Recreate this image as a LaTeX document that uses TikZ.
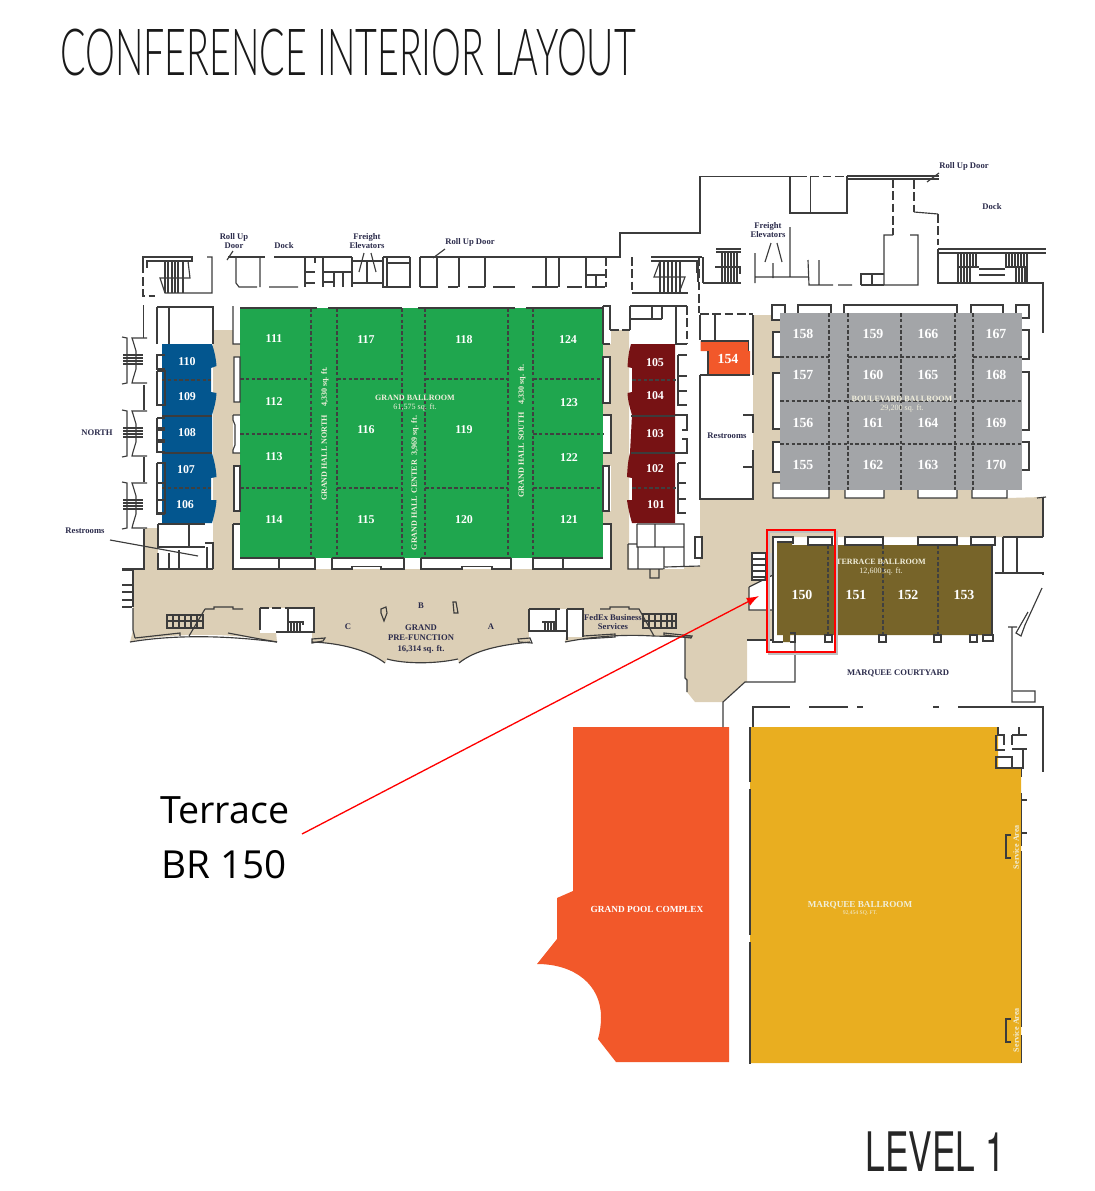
\documentclass[tikz,border=0pt]{standalone}
\usepackage{fontspec}
\setmainfont{Liberation Serif}
\newfontfamily\headfont{Lato Light}
\newfontfamily\levelfont{TeX Gyre Heros}
\newfontfamily\notefont{Open Sans}
\usepackage{xcolor}
\usepackage{graphicx}
\usetikzlibrary{arrows.meta}
\definecolor{beige}{HTML}{DCCFB6}
\definecolor{roomgreen}{HTML}{1FA64E}
\definecolor{roomblue}{HTML}{03568F}
\definecolor{maroon}{HTML}{771214}
\definecolor{roomgrey}{HTML}{A3A5A8}
\definecolor{flame}{HTML}{F2582A}
\definecolor{gold}{HTML}{E9AE20}
\definecolor{olive}{HTML}{776429}
\definecolor{wallc}{HTML}{3C3C3C}
\definecolor{navy}{HTML}{2B2B4B}
\definecolor{pale}{HTML}{F1EFDC}
\tikzset{
  wall/.style={draw=wallc, line width=0.65pt},
  whitebox/.style={draw=wallc, fill=white, line width=0.65pt},
  dashwall/.style={draw=wallc, line width=0.65pt, dash pattern=on 5pt off 2pt},
  split/.style={draw=black!75, line width=0.6pt, dash pattern=on 2pt off 1.3pt},
  num/.style={text=white, font=\bfseries\fontsize{6.8}{7}\selectfont, inner sep=0pt},
  numb/.style={text=white, font=\bfseries\fontsize{7.9}{8}\selectfont, inner sep=0pt},
  lab/.style={text=navy, font=\bfseries\fontsize{4.9}{5.6}\selectfont, align=center, inner sep=0pt},
  hall/.style={text=pale, font=\fontsize{4.6}{5.3}\selectfont, align=center, inner sep=0pt},
  redline/.style={draw=red, line width=1.15pt}
}
\begin{document}
\begin{tikzpicture}[x=0.02cm,y=-0.02cm]
  \useasboundingbox (0,0) rectangle (1095,1191);

  % floor of the public space
  \fill[beige] (133,569)--(145,569)--(145,528)--(213,528)--(213,330)--(240,330)--(240,569)--(603,569)
    --(603,330)--(629,330)--(629,569)--(665,569)--(700,566)--(700,498)--(753,498)--(753,315)--(780,315)
    --(780,490)--(1007,490)--(1007,498)--(1043,497)--(1043,537)--(773,537)--(773,640)--(747,640)--(747,682)--(745,682)
    --(723,702)--(695,702)--(687,692)--(687,680)--(685,678)--(685,637)--(653,636)
    .. controls (620,634) and (590,637) .. (565,642)--(567,631)--(529,631)--(530,642)
    .. controls (500,645) and (475,650) .. (459,663)--(458,659)
    .. controls (435,664) and (405,664) .. (387,659)--(385,663)
    .. controls (368,650) and (340,643) .. (312,642)--(312,632)--(276,632)--(277,642)
    .. controls (250,636) and (215,634) .. (190,635) .. controls (165,636) and (145,638) .. (130,642)
    --(133,630)--cycle;

  % white service rooms over the floor
  \fill[white] (157,307) rectangle (213,344);
  \fill[white] (630,330) rectangle (676,344);
  \fill[white] (158,524) rectangle (213,569);
  \fill[white] (637,524) rectangle (684,569);
  \fill[white] (260,608) rectangle (314,633);
  \fill[white] (529,609) rectangle (583,637);
  \fill[white] (773,537) rectangle (777,642);
  \fill[white] (773,537) rectangle (793,542);
  \fill[black!20] (767,553) rectangle (773,608);
  \fill[white] (749,587)--(773,575)--(773,610)--(749,610)--cycle;
  \fill[white] (752,553) rectangle (766,580);
  \foreach \boxa/\boxb/\boxh in {233/306/38,234/357/45,233/415/38,234/466/45,233/524/45,603/306/38,603/357/46,603/415/38,603/466/45,603/524/45}
    \fill[white] (\boxa,\boxb) rectangle +(7.5,\boxh);
  \foreach \boxa/\boxb/\boxh in {772/305/15,773/332/25,773/373/56,773/442/30,773/483/15}
    \fill[white] (\boxa,\boxb) rectangle +(8,\boxh);
  \foreach \bumpa/\bumpb in {773/829,845/884,918/957,972/1007}
    \fill[white] (\bumpa,490) rectangle (\bumpb,498);

  % coloured rooms
  \fill[roomgreen] (240,308) rectangle (603,558);
  \fill[roomgrey] (780,313) rectangle (1022,490);
  \fill[roomblue] (162,344)--(212,344) .. controls (214,350) and (216,358) .. (216.5,366)--(211,368)--(211,392)--(216.5,393) .. controls (216,402) and (214,408) .. (212,415)--(212,453)
    .. controls (214,460) and (216,468) .. (216.5,477)--(211,478)--(211,500)--(216.5,500) .. controls (216,508) and (214,516) .. (212,523)--(162,523)--cycle;
  \fill[maroon] (675,344)--(631,344) .. controls (629,350) and (628,358) .. (627.5,367)--(632,368)--(632,392)--(627.5,393) .. controls (628,402) and (630,408) .. (632,415)--(630,453)
    .. controls (628,460) and (627.5,468) .. (627,477)--(632,478)--(632,500)--(627,500) .. controls (628,508) and (630,516) .. (632,523)--(675,523)--cycle;
  \fill[flame] (700.7,341)--(748.7,341)--(748.7,351)--(750,351)--(750,375)--(708,375)--(708,351)--(700.7,351)--cycle;
  \fill[olive] (777,542)--(792,542)--(792,545)--(992,545)--(992,635)--(790,635)--(790,642)--(783,642)--(783,635)--(777,635)--cycle;
  \fill[flame] (573,727)--(729,727)--(729,1062)--(616,1062)--(598,1039)
    .. controls (600,1032) and (601,1025) .. (601,1017) .. controls (601,985) and (575,964) .. (537,964)
    --(557,939)--(557,898)--(573,891)--cycle;
  \fill[gold] (750,727)--(998,727)--(998,768)--(1021,768)--(1021,1063)--(750,1063)--cycle;

  % partitions
  \foreach \px in {311,337,402,425,508,533} \draw[split] (\px,308)--(\px,558);
  \draw[split] (240,379)--(311,379) (337,379)--(402,379) (425,379)--(508,379) (533,379)--(603,379);
  \draw[split] (240,434)--(311,434) (533,434)--(603,434);
  \draw[split] (240,488)--(311,488) (337,488)--(402,488) (425,488)--(508,488) (533,488)--(603,488);
  \draw[split] (162,380)--(211,380) (162,488)--(211,488) (632,380)--(678,380) (632,488)--(678,488);
  \foreach \px in {829,848,901,955,973} \draw[split] (\px,313)--(\px,490);
  \draw[split] (780,357)--(829,357) (848,357)--(955,357) (973,357)--(1022,357);
  \draw[split] (780,401)--(1022,401) (780,444)--(1022,444);
  \foreach \px in {828,883,938} \draw[split] (\px,545)--(\px,635);

  % walls: west and north edge of the grand ballroom
  \draw[wall] (240,308)--(317,308) (328,308)--(402,308) (418,308)--(515,308) (526,308)--(603,308);
  \draw[wall] (240,558)--(315,558) (332,558)--(404,558) (421,558)--(511,558) (533,558)--(603,558);
  \draw[wall] (162,416)--(212,416) (162,453)--(212,453) (631,416)--(675,416) (631,453)--(675,453);
  \draw[wall] (777,542)--(792,542) (992,545)--(992,635);
  \draw[wall] (700.7,341)--(748.7,341)--(748.7,351) (708,351)--(708,375)--(750,375);

  % top-left stair and dock
  \draw[wall] (143,273)--(143,257)--(192,257)--(192,261)--(147,261)--(147,268);
  \draw[wall] (188,261)--(190,278)--(160,278)--(165,293)--(212,293)--(212,257)--(207,257);
  \foreach \sx in {165,168,172,175,178,183} \draw[wall] (\sx,261)--(\sx,293);
  \draw[dashwall] (143,277)--(143,296)--(155,296);
  \draw[wall] (143.6,305)--(143.6,338) (144,385)--(144,410) (144,457)--(144,482) (144,529)--(144,569)--(122,569);
  \draw[wall] (228,257)--(265,257) (274,257)--(352,257) (383,257)--(410,257) (420,257)--(620,257)--(620,233)--(700,233)--(700,176.7)--(798,176.7);
  \draw[wall] (236,257)--(236,283)--(239,287)--(257,287) (260,257)--(260,287) (269,287)--(298,287);
  \draw[wall] (305,257)--(305,287) (305,272)--(315,272) (305,283)--(315,283) (315,257)--(315,263);
  \draw[wall] (323,257)--(323,287) (323,272)--(352,272) (323,282)--(334,282) (334,272)--(334,287) (343,272)--(343,287);
  \draw[wall] (352,257)--(352,287) (352,261)--(383,261) (352,283)--(383,283) (367,261)--(367,283);
  \draw[wall] (383,257)--(383,287)--(410,287)--(410,257) (387,257)--(387,287) (387,263)--(410,263);
  \draw[wall] (364,253)--(359,272) (371,253)--(376,272) (233,251)--(227,260) (445,249)--(433,258) (939,173)--(927,182);
  \foreach \dx in {420,437,459,485,546,559,586} \draw[wall] (\dx,257)--(\dx,287);
  \draw[wall] (420,287)--(438,287) (448,287)--(458,287) (468,287)--(485,287) (493,287)--(515,287) (532,287)--(558,287) (567,287)--(582,287) (585,287)--(605,287);
  \draw[wall] (586,275)--(606,275) (596,275)--(596,287);
  \draw[dashwall] (606,257)--(606,287);

  % top-middle stair
  \draw[dashwall] (632,257)--(632,292);
  \draw[wall] (632,293)--(688,293) (651,257)--(698,257) (651,261)--(697,261)--(697,273);
  \draw[wall] (660,261)--(654,277)--(685,277)--(679,293);
  \foreach \sx in {660,664,668,672,676,680} \draw[wall] (\sx,261)--(\sx,293);
  \draw[dashwall] (699,257)--(699,313);

  % north-east service wing
  \draw[wall] (847,176)--(939,176) (847,179)--(939,179) (790,176.7)--(790,213)--(847,213)--(847,176) (810.7,176.7)--(810.7,213);
  \draw[dashwall] (798,176.7)--(847,176.7) (893,179)--(893,235) (914,180)--(914,212) (938,214)--(938,245);
  \draw[wall] (893,235)--(884,235)--(884,285)--(918,285)--(918,235)--(910,235) (914,212)--(938,214);
  \draw[wall] (938,249)--(938,283)--(1043,283)--(1043,333) (938,249)--(1046,249) (938,253)--(1046,253);
  \foreach \sx in {958,961,964,967,970,973,976} \draw[wall] (\sx,253)--(\sx,267);
  \foreach \sx in {958,961,964,967,970} \draw[wall] (\sx,267)--(\sx,282);
  \foreach \sx in {1006,1009,1012,1015,1018,1021,1024,1027} \draw[wall] (\sx,253)--(\sx,267);
  \foreach \sx in {1016,1019,1022,1025,1027} \draw[wall] (\sx,267)--(\sx,282);
  \draw[wall] (957,267)--(979,267) (1005,267)--(1027,267) (979,269)--(1005,269) (979,275)--(1005,275);
  \draw[wall] (755,253)--(755,283) (755,277)--(809,277) (773,263)--(773,278) (790,227)--(790,277) (808,260)--(809,285)--(833,285) (838,285)--(852,285) (819,260)--(819,285);
  \draw[wall] (771,243)--(765,262) (777,243)--(782,262);
  \draw[wall] (861,285)--(861,274)--(884,274) (872,274)--(872,285) (861,285)--(884,285);
  \draw[wall] (716,249)--(741,249) (716,252)--(741,252) (703,283)--(741,283) (715,267)--(740,267)--(740,274) (703,257)--(703,283) (690,257)--(702,257) (698,262)--(698,282);
  \foreach \sx in {722,725,728,731,734,737} \draw[wall] (\sx,252)--(\sx,283);

  % restrooms and room 154
  \draw[wall] (700,315)--(700,340) (700,375)--(700,499)--(754,499) (753,315)--(753,375) (753,450)--(753,499);
  \draw[dashwall] (700,314)--(753,314);
  \draw[wall] (715,315)--(715,340) (743,415)--(753,415)--(753,433) (753,450)--(753,467)--(743,467) (700,375)--(708,375);

  % stair blocks on the north side
  \foreach \sy in {337,410,482} {
    \draw[wall] (147,\sy+1)--(132,\sy+1)--(133,\sy+4)--(136,\sy+14)--(136,\sy+32)--(133,\sy+42)--(132,\sy+46)--(147,\sy+46);
    \draw[wall] (122,\sy)--(127,\sy+1)--(127,\sy+46)--(122,\sy+47);
    \foreach \sk in {18,21,24,27} \draw[wall] (123,\sy+\sk)--(143,\sy+\sk);
  }
  \foreach \wy in {355,428,500} \draw[wall] (165,\wy)--(157,\wy)--(157,\wy+14)--(165,\wy+14);

  % boxes along the ballroom sides
  \draw[wall] (157,307)--(213,307)--(213,344) (169,307)--(169,344) (157,344)--(157,307);
  \draw[wall] (157,371)--(165,371)--(165,405)--(157,405)--(157,371);
  \draw[wall] (157,418)--(165,418) (157,418)--(157,430)--(165,430) (157,440)--(165,440) (157,440)--(157,452)--(165,452);
  \draw[wall] (157,463)--(165,463)--(165,513)--(157,513) (157,463)--(157,513) (157,483)--(165,483) (157,500)--(165,500);
  \draw[wall] (233,306)--(233,344)--(240,344) (234,357) rectangle (240,402) (233,415)--(233,420)--(235,425)--(235,445)--(233,450)--(233,453)--(240,453) (233,415)--(240,415);
  \draw[wall] (234,466) rectangle (240,511) (233,524)--(240,524) (233,524)--(233,569)--(315,569)--(315,558) (279,558)--(279,569);
  \draw[wall] (332,558)--(332,569)--(352,569)--(352,566.7)--(381,566.7)--(381,569)--(404,569)--(404,558) (421,558)--(421,569)--(462,569)--(462,566.7)--(492,566.7)--(492,569)--(511,569)--(511,558);
  \draw[wall] (533,558)--(533,569)--(611,569)--(611,524)--(603,524) (563,558)--(563,569);
  \draw[wall] (603,306)--(610,306)--(610,330) (610,344)--(603,344) (603,306)--(603,344) (603,357) rectangle (610,403) (603,415)--(611,415)--(611,453)--(603,453) (603,466) rectangle (609,511);
  \draw[dashwall] (610,330)--(630,330);
  \draw[wall] (630,306)--(687,306) (630,306)--(630,330) (630,319)--(662,319) (652,306)--(652,319) (662,306)--(662,319) (676,306)--(676,344) (675,344)--(687,344);
  \draw[dashwall] (687,306)--(687,344);
  \draw[wall] (678,355)--(687,355) (678,355)--(678,405)--(687,405) (678,376)--(687,376) (678,391)--(687,391);
  \draw[wall] (675,415)--(687,415)--(687,430)--(682,430) (682,439)--(687,439)--(687,453)--(675,453);
  \draw[wall] (678,463)--(686,463) (678,463)--(678,513)--(686,513) (678,483)--(686,483) (678,499)--(686,499);

  % restrooms below the wings
  \draw[wall] (158,524)--(205,524) (158,524)--(158,547)--(205,547) (189,524)--(189,547) (205,543)--(213,543)--(213,569) (158,553)--(158,569)--(213,569) (169,553)--(169,569) (179,550)--(179,569) (207,547)--(207,569);
  \draw[wall] (637,524)--(684,524)--(684,566) (637,524)--(637,547)--(684,547) (655,524)--(655,547) (628,544)--(628,569)--(663,569) (628,544)--(636,544) (638,547)--(638,569) (664,547)--(664,569) (650,569)--(650,578)--(659,578)--(659,569) (665,567)--(700,566);
  \filldraw[whitebox] (695,537) rectangle (702,558);

  % grand pre-function hall
  \draw[wall] (133,608)--(133,630)--(135,638) (130,642) .. controls (165,636) and (215,634) .. (277,642);
  \foreach \dy in {570,585,592,600,607} \draw[wall] (122,\dy)--(132,\dy);
  \draw[wall] (133,569)--(133,607);
  \draw[wall] (135,638)--(180,633)--(180,636) (228,633)--(260,639)--(277,642);
  \draw[wall] (205,609)--(189,636) (205,609)--(214,609)--(214,607)--(233,607)--(233,609)--(243,609);
  \draw[wall] (167,615) rectangle (203,628) (167,621)--(203,621);
  \foreach \sx in {173,179,185,191,197} \draw[wall] (\sx,615)--(\sx,628);
  \draw[dashwall] (260,608)--(288,608);
  \draw[wall] (288,608)--(314,608)--(314,633) (260,608)--(260,630) (288,608)--(288,632) (276,632)--(314,632) (288,622)--(303,622)--(303,625);
  \foreach \sx in {291,294,297,300} \draw[wall] (\sx,622)--(\sx,632);
  \draw[wall] (312,643)--(323,641)--(325,638)--(312,639)--cycle;
  \draw[wall] (385,663) .. controls (368,650) and (340,643) .. (312,642);
  \draw[wall] (459,663) .. controls (475,650) and (500,645) .. (530,642) (387,659) .. controls (405,664) and (435,664) .. (458,659);
  \draw[wall] (518,639)--(530,638)--(532,643)--(519,642)--cycle;
  \draw[wall] (529,609)--(560,609) (529,609)--(529,632) (529,631)--(567,631) (556,609)--(556,631) (542,622)--(557,622);
  \foreach \sx in {545,548,551,554} \draw[wall] (\sx,622)--(\sx,631);
  \draw[wall] (567,609)--(583,609)--(583,637) (567,609)--(567,640);
  \draw[wall] (565,642) .. controls (590,637) and (620,634) .. (653,636)--(692,637);
  \draw[wall] (600,609)--(610,609)--(610,607)--(629,607)--(629,609)--(639,609)--(654,636);
  \draw[wall] (643,614) rectangle (676,628) (643,621)--(676,621);
  \foreach \sx in {649,655,661,667,672} \draw[wall] (\sx,614)--(\sx,628);
  \draw[wall] (664,633)--(692,636)--(691,638)--(664,635)--cycle (583,636)--(615,634)--(615,637)--(583,639);
  \draw[wall] (381,609)--(386,607)--(387,613)--(384,621)--(381,613)--cycle (453,602)--(456,602)--(458,613)--(454,613)--cycle;
  \draw[wall] (685,637)--(685,678)--(687,680)--(687,692);
  \draw[wall] (723,727)--(723,702)--(745,682)--(795,682)--(795,642);

  % boulevard ballroom surround
  \draw[wall] (785,313)--(785,305)--(772,305)--(772,320)--(780,320) (798,313)--(798,305)--(831,305)--(831,313);
  \draw[wall] (844,313)--(844,305)--(957,305)--(957,313) (971,313)--(971,305)--(1003,305)--(1003,313);
  \draw[wall] (1016,313)--(1016,305)--(1029,305)--(1029,318)--(1022,318);
  \draw[wall] (780,332)--(773,332)--(773,357)--(780,357) (780,373)--(773,373)--(773,429)--(780,429) (780,442)--(773,442)--(773,472)--(780,472);
  \draw[wall] (780,483)--(773,483)--(773,498)--(829,498)--(829,490) (845,490)--(845,498)--(884,498)--(884,490) (918,490)--(918,498)--(957,498)--(957,490) (972,490)--(972,498)--(1007,498)--(1007,490) (1037,498)--(1046,497);
  \draw[wall] (1022,330)--(1029,330)--(1029,359)--(1022,359) (1022,372)--(1029,372)--(1029,430)--(1022,430) (1022,442)--(1029,442)--(1029,470)--(1022,470);
  \draw[wall] (1043,497)--(1043,537);

  % terrace ballroom surround
  \draw[wall] (793,544)--(793,537)--(773,537)--(773,642)--(783,642) (773,640)--(747,640);
  \filldraw[whitebox] (808,537) rectangle (832,545);
  \filldraw[whitebox] (845,537)--(883,537)--(883,545)--(845,545)--cycle;
  \filldraw[whitebox] (918,537)--(957,537)--(957,545)--(918,545)--cycle;
  \filldraw[whitebox] (971,537)--(995,537)--(995,545)--(971,545)--cycle;
  \draw[wall] (790,633)--(795,633)--(795,642)--(790,642);
  \foreach \bx in {825,879,934,970} \draw[wall] (\bx,635) rectangle +(7,7);
  \draw[wall] (983,635) rectangle (993,641);
  \draw[wall] (752,553) rectangle (766,580);
  \foreach \sy in {559,565,571,577} \draw[wall] (752,\sy)--(766,\sy);
  \draw[wall] (749,587)--(773,575) (749,587)--(749,610)--(773,610);
  \draw[wall] (1003,537)--(1043,537) (1003,537)--(1003,573) (1017,537)--(1017,573) (995,573)--(1043,573)--(1043,575);
  \draw[wall] (1042,588)--(1025,625)--(1021,636)--(1016,633)--(1028,612) (1008,627)--(1017,627) (1012,627)--(1012,702)--(1035,702)--(1035,691)--(1013,691);
  \draw[wall] (753,727)--(753,707)--(790,707) (809,707)--(848,707) (857,707)--(863,707) (933,707)--(939,707) (958,707)--(1043,707)--(1043,772);

  % marquee ballroom edges
  \draw[wall] (750,727)--(750,782) (750,789)--(750,935) (750,942)--(750,1064);
  \draw[wall] (1021.7,768)--(1021.7,777) (1021.7,793)--(1021.7,846) (1021.7,851)--(1021.7,1027) (1021.7,1035)--(1021.7,1063);
  \draw[wall] (1011,835)--(1006,835)--(1006,858)--(1011,858) (1011,1019)--(1006,1019)--(1006,1042)--(1011,1042);
  \draw[wall] (1022,800)--(1027,800) (1022,833)--(1027,833);
  \draw[wall] (998,727)--(998,735)--(1004,735)--(1004,745) (996,735)--(996,750)--(1005,750) (996,757)--(1012,757)--(1012,768)--(996,768)--cycle;
  \draw[wall] (1012,735)--(1027,735) (1012,735)--(1012,745) (1012,749)--(1027,749) (1023,749)--(1023,768)--(1012,768) (1019,727)--(1019,735);

  % room numbers
  \foreach \n/\x/\y in {110/187/362,109/187/397,108/187/433,107/186/470,106/185/505,
    111/274/339,112/274/402,113/274/457,114/274/520,115/366/520,116/366/430,117/366/340,
    118/464/340,119/464/430,120/464/520,121/569/520,122/569/458,123/569/403,124/568/340,
    105/655/363,104/655/396,103/655/434,102/655/469,101/656/505}
    \node[num] (room\n) at (\x,\y) {\n};
  \foreach \n/\x/\y in {154/728/359,158/803/334,159/873/334,166/928/334,167/996/334,
    157/803/375,160/873/375,165/928/375,168/996/375,156/803/423,161/873/423,164/928/423,169/996/423,
    155/803/465,162/873/465,163/928/465,170/996/465,150/802/595,151/856/595,152/908/595,153/964/595}
    \node[numb] (room\n) at (\x,\y) {\n};

  % dark labels
  \node[lab] (rollupa) at (234,241) {Roll Up\\Door};
  \node[lab] (docka) at (284,246) {Dock};
  \node[lab] (freighta) at (367,241) {Freight\\Elevators};
  \node[lab] (rollupb) at (470,242) {Roll Up Door};
  \node[lab] (freightb) at (768,230) {Freight\\Elevators};
  \node[lab] (rollupc) at (964,166) {Roll Up Door};
  \node[lab] (dockb) at (992,207) {Dock};
  \node[lab] (north) at (97,433) {NORTH};
  \node[lab] (restrooma) at (85,531) {Restrooms};
  \node[lab] (restroomb) at (727,436) {Restrooms};
  \node[lab] (courtyard) at (898,673) {MARQUEE COURTYARD};
  \node[lab] (prefuncb) at (421,606) {B};
  \node[lab] (prefuncc) at (348,627) {C};
  \node[lab] (prefunca) at (491,627) {A};
  \node[lab] (prefunc) at (421,639) {GRAND\\PRE-FUNCTION\\[1pt]16,314 sq. ft.};
  \node[lab] (fedex) at (613,622) {FedEx Business\\Services};
  \coordinate (restroomtip) at (198,556);
  \draw[wall] (110,540)--(restroomtip);

  % light labels
  \node[hall] (grandbr) at (415,403) {\bfseries GRAND BALLROOM\\61,575 sq. ft.};
  \node[hall,rotate=90] (hallnorth) at (325,434) {\bfseries GRAND HALL NORTH\quad 4,330 sq. ft.};
  \node[hall,rotate=90] (hallcenter) at (415,483) {\bfseries GRAND HALL CENTER\; 3,969 sq. ft.};
  \node[hall,rotate=90] (hallsouth) at (522,431) {\bfseries GRAND HALL SOUTH\quad 4,330 sq. ft.};
  \node[hall] (boulevard) at (902,404) {\bfseries BOULEVARD BALLROOM\\29,200 sq. ft.};
  \node[hall] (terrace) at (881,567) {\bfseries TERRACE BALLROOM\\12,600 sq. ft.};
  \node[hall,text=white,font=\bfseries\fontsize{5.3}{6}\selectfont] (pool) at (647,909) {GRAND POOL COMPLEX};
  \node[hall,font=\bfseries\fontsize{5.2}{6}\selectfont] (marquee) at (860,905) {MARQUEE BALLROOM};
  \node[hall,font=\fontsize{3.2}{4}\selectfont] (marqueesq) at (860,913) {92,454 SQ. FT.};
  \node[hall,rotate=90] (servicea) at (1016,847) {\bfseries Service Area};
  \node[hall,rotate=90] (serviceb) at (1016,1030) {\bfseries Service Area};

  % headings
  \node[anchor=west,inner sep=0pt,text=black!90] (heading) at (60,53) {\headfont\fontsize{37}{40}\selectfont\scalebox{0.579}[1]{CONFERENCE INTERIOR LAYOUT}};
  \node[anchor=west,inner sep=0pt,text=black!85] (level) at (865,1152) {\levelfont\fontsize{31}{34}\selectfont\scalebox{0.65}[1]{LEVEL 1}};

  % callout
  \node[anchor=west,inner sep=0pt,font=\notefont\fontsize{21.4}{24}\selectfont] (notea) at (160,810) {Terrace};
  \node[anchor=west,inner sep=0pt,font=\notefont\fontsize{22}{24}\selectfont] (noteb) at (161,865) {BR 150};
  \coordinate (calltail) at (302,834);
  \coordinate (calltip) at (759,596);
  \draw[black!25,line width=1.15pt] (769,532) rectangle (837,654);
  \draw[redline] (767,530) rectangle (835,652);
  \draw[draw=red,line width=0.75pt,-{Latex[length=7pt,width=5pt]}] (calltail)--(calltip);
\end{tikzpicture}
\end{document}
